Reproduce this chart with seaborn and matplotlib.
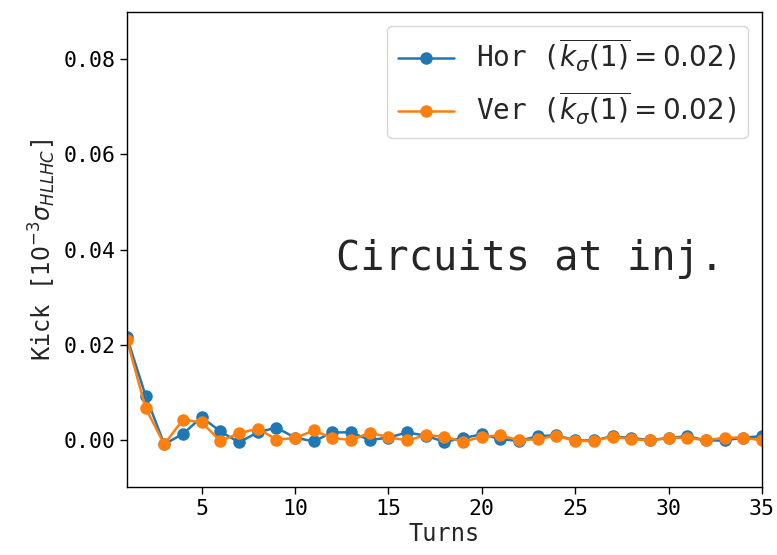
import numpy as np
import pandas as pd
import matplotlib
matplotlib.use("Agg")
import matplotlib.pyplot as plt
import seaborn as sns

turns = list(range(1, 36))
hor = [0.0215, 0.0092, -0.0010, 0.0012, 0.0047, 0.0017, -0.0006, 0.0015, 0.0025, 0.0004,
       -0.0004, 0.0015, 0.0015, -0.0001, 0.0004, 0.0015, 0.0008, -0.0005, 0.0003, 0.0011,
       0.0001, -0.0003, 0.0007, 0.0009, -0.0002, -0.0002, 0.0007, 0.0003, -0.0001, 0.0003,
       0.0007, -0.0002, -0.0002, 0.0004, 0.0007]
ver = [0.0210, 0.0066, -0.0010, 0.0042, 0.0036, -0.0003, 0.0013, 0.0023, 0.0000, 0.0003,
       0.0019, 0.0003, -0.0001, 0.0014, 0.0005, -0.0002, 0.0009, 0.0006, -0.0005, 0.0006,
       0.0009, -0.0002, 0.0001, 0.0008, -0.0003, -0.0003, 0.0006, 0.0001, -0.0002, 0.0003,
       0.0004, -0.0002, 0.0004, 0.0004, -0.0002]
labels = [r"Hor ($\overline{k_\sigma(1)} = 0.02$)",
          r"Ver ($\overline{k_\sigma(1)} = 0.02$)"]

df = pd.DataFrame({
    "Turns": turns * 2,
    "Kick": hor + ver,
    "plane": [labels[0]] * len(turns) + [labels[1]] * len(turns),
})

sns.set_style("ticks")
plt.rcParams["font.family"] = ["DejaVu Sans Mono", "DejaVu Sans"]
plt.rcParams["mathtext.fontset"] = "dejavusans"

fig = plt.figure(figsize=(7.77, 5.55), dpi=100)
ax = fig.add_axes([0.1634, 0.1225, 0.8172, 0.8559])

sns.lineplot(data=df, x="Turns", y="Kick", hue="plane",
             palette=["#1f77b4", "#ff7f0e"], marker="o", markersize=9,
             markeredgewidth=0, linewidth=1.8, ax=ax)

ax.set_xlim(1, 35)
ax.set_ylim(-0.01, 0.09)
ax.set_xticks([5, 10, 15, 20, 25, 30, 35])
ax.set_yticks([0.0, 0.02, 0.04, 0.06, 0.08])
ax.tick_params(labelsize=15.5, direction="out", length=5, width=1, colors="black")
for s in ax.spines.values():
    s.set_visible(True)
    s.set_color("black")
    s.set_linewidth(1)
ax.set_xlabel("Turns", fontsize=17, labelpad=2)
ax.set_ylabel(r"Kick [$10^{-3}\sigma_{HLLHC}$]", fontsize=17)

leg = ax.legend(loc="upper right", fontsize=20, frameon=True, title=None,
                handlelength=2.0, borderaxespad=0.5, labelspacing=0.55)

ax.text(0.94, 0.48, "Circuits at inj.", transform=ax.transAxes,
        fontsize=29, ha="right", va="center")

fig.savefig("out.png", dpi=100)
